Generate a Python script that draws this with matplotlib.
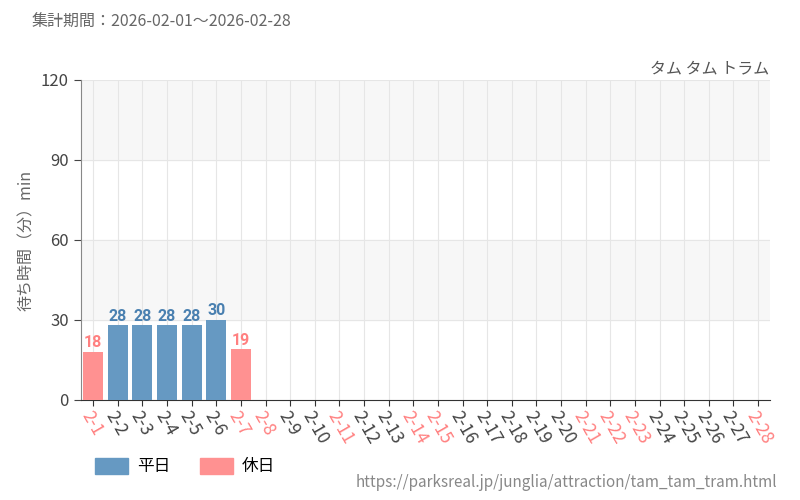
import matplotlib
matplotlib.use("Agg")
import matplotlib.pyplot as plt
from matplotlib.patches import Patch

plt.rcParams['font.family'] = ['Noto Sans CJK JP', 'DejaVu Sans']

# Data
days = [f"2-{d}" for d in range(1, 29)]
values = [18, 28, 28, 28, 28, 30, 19]
holidays = ["2-1", "2-7", "2-8", "2-11", "2-14", "2-15", "2-21", "2-22", "2-23", "2-28"]

BLUE = "#6699c2"
PINK = "#ff9191"
BLUE_TXT = "#4a80b0"
PINK_TXT = "#ff8080"

fig = plt.figure(figsize=(8, 5), dpi=100)
ax = fig.add_axes([0.101, 0.2, 0.862, 0.64])

x = list(range(len(days)))
for i, v in enumerate(values):
    hol = days[i] in holidays
    ax.bar(i, v, width=0.82, color=PINK if hol else BLUE, zorder=3)
    ax.text(i, v + 0.6, str(v), ha='center', va='bottom', fontsize=11.5,
            family=['Roboto', 'DejaVu Sans'], weight='bold',
            color=PINK_TXT if hol else BLUE_TXT, zorder=4)

ax.set_xlim(-0.5, len(days) - 0.5)
ax.set_ylim(0, 120)
ax.set_yticks([0, 30, 60, 90, 120])
ax.axhspan(30, 60, color="#f7f7f7", zorder=0)
ax.axhspan(90, 120, color="#f7f7f7", zorder=0)
for yv in [30, 60, 90, 120]:
    ax.axhline(yv, color="#e6e6e6", lw=0.8, zorder=1)
ax.set_xticks(x)
ax.set_xticklabels(days, rotation=-60, ha='left', va='top', rotation_mode='anchor', fontsize=12.5)
for lbl in ax.get_xticklabels():
    lbl.set_color(PINK_TXT if lbl.get_text() in holidays else "#444444")
ax.grid(axis='x', color="#e6e6e6", lw=0.8, zorder=1)
ax.tick_params(axis='y', labelsize=12, colors="#444444", length=5)
ax.tick_params(axis='x', length=4, color="#333333", pad=2)
for s in ["top", "right"]:
    ax.spines[s].set_visible(False)
ax.spines["left"].set_color("#888888")
ax.spines["bottom"].set_color("#333333")
ax.set_ylabel("待ち時間（分）min", color="#666666", fontsize=11.5)

fig.text(0.04, 0.955, "集計期間：2026-02-01～2026-02-28", fontsize=11.5, color="#666666", va='center')
fig.text(0.962, 0.862, "タム タム トラム", fontsize=11.5, color="#555555", ha='right', va='center')
fig.text(0.972, 0.035, "https://parksreal.jp/junglia/attraction/tam_tam_tram.html",
         fontsize=11, color="#888888", ha='right', va='center')

handles = [Patch(color=BLUE, label="平日"), Patch(color=PINK, label="休日")]
fig.legend(handles=handles, loc='center left', bbox_to_anchor=(0.1, 0.067), ncol=2,
           frameon=False, fontsize=12, handlelength=2.0, handleheight=1.1,
           handletextpad=0.5, columnspacing=1.8)

fig.savefig("out.png", dpi=100)
